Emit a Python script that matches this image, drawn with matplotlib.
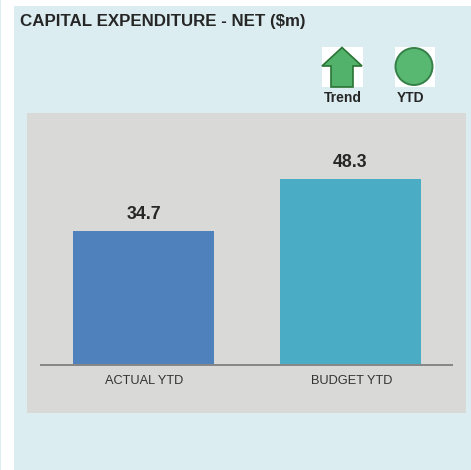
"""Capital expenditure tile: actual vs budget YTD."""

import matplotlib
matplotlib.use('Agg')
import matplotlib.pyplot as plt
from matplotlib.patches import Circle, Polygon, Rectangle
from matplotlib.transforms import ScaledTranslation

categories = ['ACTUAL YTD', 'BUDGET YTD']
values = [34.7, 48.3]
bar_colors = ['#4F81BD', '#4BACC6']

PANEL_COLOR = '#DBEDF1'
GRAY_COLOR = '#D9D9D7'
TEXT_COLOR = '#262626'
AXIS_COLOR = '#868686'
W, H = 471, 470

plt.rcParams['font.family'] = ['Liberation Sans', 'DejaVu Sans']

fig = plt.figure(figsize=(W / 100, H / 100), dpi=100, facecolor='white')

# background layer in pixel coordinates
bg = fig.add_axes([0, 0, 1, 1])
bg.set_xlim(0, W)
bg.set_ylim(H, 0)
bg.axis('off')
bg.add_patch(Rectangle((0, 0), 1, H, color=PANEL_COLOR, lw=0))
bg.add_patch(Rectangle((14, 6), W - 14, H - 6, color=PANEL_COLOR, lw=0))
bg.add_patch(Rectangle((27, 113), 439, 300, color=GRAY_COLOR, lw=0))

bg.text(20, 21.5, 'CAPITAL EXPENDITURE - NET ($m)', fontsize=12.2,
        fontweight='bold', color=TEXT_COLOR, va='center', ha='left')

# trend icon
bg.add_patch(Rectangle((322, 47), 41, 40, color='white', lw=0))
bg.add_patch(Polygon([(342, 47.5), (362, 66), (353, 66), (353, 87),
                      (331, 87), (331, 66), (322, 66)], closed=True,
                     facecolor='#52B26B', edgecolor='#2A7434', lw=1.2))
bg.text(342.5, 98.5, 'Trend', fontsize=10, fontweight='bold',
        color=TEXT_COLOR, ha='center', va='center')

# YTD icon
bg.add_patch(Rectangle((395, 47), 40, 40, color='white', lw=0))
bg.add_patch(Circle((414, 66.5), 18.5, facecolor='#58B872',
                    edgecolor='#357F48', lw=1.4))
bg.text(410.5, 98.5, 'YTD', fontsize=10, fontweight='bold',
        color=TEXT_COLOR, ha='center', va='center')

# chart axes
ax = fig.add_axes([40 / W, 1 - 365 / H, 413 / W, 252 / H])
ax.patch.set_alpha(0)
bars = ax.bar(categories, values, width=0.681, color=bar_colors)
ax.set_xlim(-0.5, 1.495)
ax.set_ylim(0, 65.3)
ax.set_yticks([])
for side in ['top', 'left', 'right']:
    ax.spines[side].set_visible(False)
ax.spines['bottom'].set_color(AXIS_COLOR)
ax.spines['bottom'].set_linewidth(1.4)
ax.spines['bottom'].set_capstyle('butt')
ax.tick_params(axis='x', length=0, pad=7, labelsize=9.2, labelcolor='#333333')
for label in ax.get_xticklabels():
    label.set_transform(label.get_transform()
                        + ScaledTranslation(1 / 100, 0, fig.dpi_scale_trans))

for bar, v in zip(bars, values):
    ax.annotate(f"{v:.1f}", (bar.get_x() + bar.get_width() / 2, v),
                xytext=(0, 8.5), textcoords='offset points', ha='center',
                fontsize=12.8, fontweight='bold', color=TEXT_COLOR)

fig.savefig('out.png', dpi=100, facecolor='white')
plt.close(fig)
